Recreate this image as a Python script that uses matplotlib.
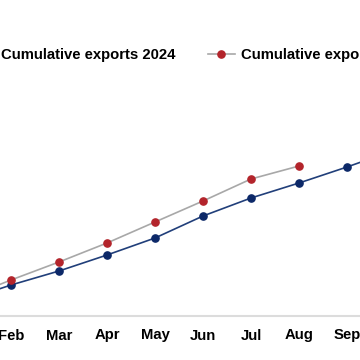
import matplotlib.pyplot as plt

plt.rcParams['font.family'] = ['Liberation Sans', 'DejaVu Sans']

months = ['Jan', 'Feb', 'Mar', 'Apr', 'May', 'Jun', 'Jul', 'Aug', 'Sep', 'Oct', 'Nov', 'Dec']
exports_2024 = [15, 31, 45, 61, 78, 100, 118, 133, 149, 166, 181, 197]
exports_2025 = [17, 36, 54, 73, 94, 115, 137, 150]

fig = plt.figure(figsize=(3.6, 3.6), dpi=100)
ax = fig.add_axes([0, 44 / 360, 1, 316 / 360])

x24 = list(range(len(exports_2024)))
x25 = list(range(len(exports_2025)))

ax.plot(x24, exports_2024, color='#213f7a', linewidth=1.2, marker='o',
        markersize=5.2, markerfacecolor='#0c2868', markeredgecolor='#0c2868',
        label='Cumulative exports 2024')
ax.plot(x25, exports_2025, color='#a8a8a8', linewidth=1.2, marker='o',
        markersize=5.2, markerfacecolor='#b3242b', markeredgecolor='#b3242b',
        label='Cumulative exports 2025')

ax.set_xticks(range(len(months)))
ax.set_xticklabels(months, fontsize=10.7, fontweight='bold')
ax.set_xlim(1 - 11 / 48, 8 + 13 / 48)
ax.set_ylim(0, 316)
ax.tick_params(axis='x', length=0, pad=9)
ax.set_yticks([])

for side in ['top', 'right', 'left']:
    ax.spines[side].set_visible(False)
ax.spines['bottom'].set_color('#dcdcdc')
ax.spines['bottom'].set_linewidth(1.5)

leg = ax.legend(loc='center left', bbox_to_anchor=(-32 / 360, 1 - 55 / 360),
                bbox_transform=fig.transFigure, ncol=2, frameon=False,
                borderpad=0, borderaxespad=0, handlelength=1.8,
                handletextpad=0.4, columnspacing=2.2,
                prop={'size': 10.7, 'weight': 'bold'})

fig.savefig('out.png', dpi=100)
